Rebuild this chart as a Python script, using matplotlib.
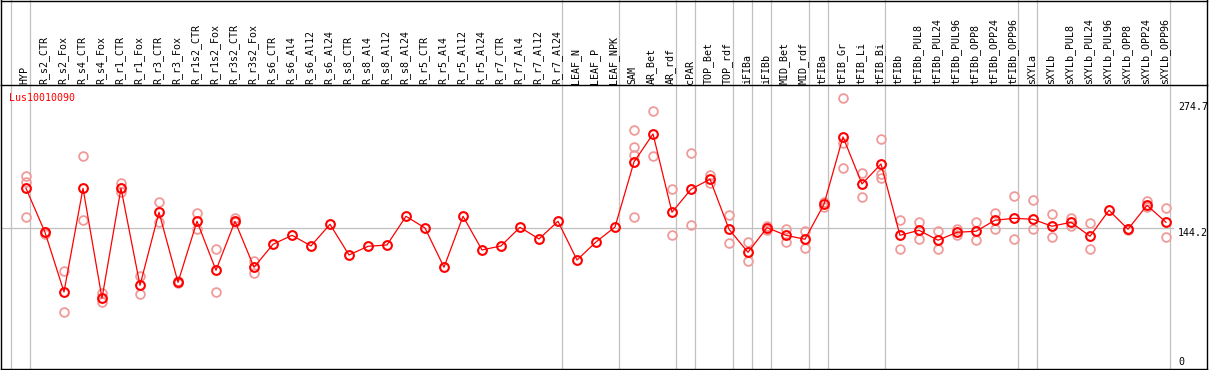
import matplotlib
matplotlib.use("Agg")
import matplotlib.pyplot as plt
from matplotlib.transforms import blended_transform_factory
from matplotlib.lines import Line2D

gene = "Lus10010090"

samples = [
    "HYP", "R_s2_CTR", "R_s2_Fox", "R_s4_CTR", "R_s4_Fox", "R_r1_CTR", "R_r1_Fox",
    "R_r3_CTR", "R_r3_Fox", "R_r1s2_CTR", "R_r1s2_Fox", "R_r3s2_CTR", "R_r3s2_Fox",
    "R_s6_CTR", "R_s6_Al4", "R_s6_Al12", "R_s6_Al24", "R_s8_CTR", "R_s8_Al4",
    "R_s8_Al12", "R_s8_Al24", "R_r5_CTR", "R_r5_Al4", "R_r5_Al12", "R_r5_Al24",
    "R_r7_CTR", "R_r7_Al4", "R_r7_Al12", "R_r7_Al24", "LEAF_N", "LEAF_P", "LEAF_NPK",
    "SAM", "AR_Bet", "AR_rdf", "cPAR", "TOP_Bet", "TOP_rdf", "iFIBa", "iFIBb",
    "MID_Bet", "MID_rdf", "tFIBa", "tFIB_Gr", "tFIB_Li", "tFIB_Bi", "tFIBb",
    "tFIBb_PUL8", "tFIBb_PUL24", "tFIBb_PUL96", "tFIBb_OPP8", "tFIBb_OPP24",
    "tFIBb_OPP96", "sXYLa", "sXYLb", "sXYLb_PUL8", "sXYLb_PUL24", "sXYLb_PUL96",
    "sXYLb_OPP8", "sXYLb_OPP24", "sXYLb_OPP96",
]

# mean expression per sample
means = [
    185.3, 139.7, 77.9, 185.3, 71.4, 185.3, 84.8, 160.5, 87.9, 151.1, 100.4, 151.1,
    103.5, 127.3, 136.6, 125.6, 148.0, 116.2, 125.2, 126.6, 156.3, 144.2, 103.5,
    156.3, 121.4, 125.6, 144.9, 132.8, 151.1, 111.0, 129.7, 145.2, 212.6, 241.6,
    160.5, 184.3, 194.7, 142.9, 119.0, 144.5, 136.6, 132.5, 168.8, 238.5, 189.8,
    210.5, 136.6, 141.8, 131.5, 139.7, 140.8, 152.2, 154.2, 153.2, 146.0, 150.1,
    135.6, 162.5, 142.9, 167.7, 150.1,
]

# individual replicates
replicates = [
    [197.8, 191.5, 155.6], [140.5, 137.5], [99.7, 57.2], [218.5, 152.2], [76.5, 67.8],
    [190.5, 181.2], [94.2, 75.5], [170.8, 150.1], [86.7, 89.3], [159.4, 142.9],
    [122.1, 77.9], [154.2, 150.1], [109.7, 97.9],
    [], [], [], [], [], [], [], [], [], [], [], [], [], [], [], [], [], [], [],
    [245.4, 227.8, 219.5, 155.6], [265.1, 218.5], [184.3, 136.6], [221.6, 147.0],
    [199.1, 190.5], [157.4, 128.3], [129.4, 109.7], [146.3, 142.1], [142.9, 130.0],
    [140.8, 123.2], [166.3, 171.1], [278.6, 232.0, 206.1], [200.9, 176.0],
    [236.2, 199.8, 195.7], [152.2, 122.1], [150.1, 132.5], [140.8, 122.1],
    [136.6, 142.9], [150.1, 131.5], [159.4, 143.5], [177.0, 132.5], [172.9, 142.9],
    [158.4, 134.6], [154.2, 146.0], [149.1, 122.1], [], [143.5, 141.8],
    [171.9, 165.6], [164.6, 134.6],
]

# last sample of each group (separators drawn after them)
group_ends = [-1, 0, 28, 31, 34, 35, 37, 38, 39, 41, 42, 45, 52, 53, 60]
y_marks = [0, 144.2, 274.7]

W, H = 1209, 370
fig = plt.figure(figsize=(W / 100, H / 100), dpi=100)
ax = fig.add_axes([1 / W, 1 / H, 1206 / W, 284 / H])
ax.set_xlim((1 - 26) / 19, (1207 - 26) / 19)
ax.set_ylim(-1.9, 292.3)
ax.set_xticks([])
ax.set_yticks([])
for s in ax.spines.values():
    s.set_color("black")
    s.set_linewidth(1.0)

grey = "#c0c0c0"
mono = "DejaVu Sans Mono"
x = list(range(len(samples)))

# group separators across the whole figure height
tr = blended_transform_factory(ax.transData, fig.transFigure)
for g in group_ends:
    ax.add_line(Line2D([g + 0.2, g + 0.2], [1 / H, 1], transform=tr, color=grey,
                       lw=0.9, clip_on=False, zorder=0))

ax.axhline(y_marks[1], xmin=0, xmax=0.972, color=grey, lw=0.9, zorder=0)

for i, reps in enumerate(replicates):
    if reps:
        ax.plot([i] * len(reps), reps, "o", ms=6.3, mfc="none", mec="#f09a9a",
                mew=1.3, zorder=2)

ax.plot(x, means, "-", color="red", lw=0.9, zorder=3)
ax.plot(x, means, "o", ms=6.3, mfc="none", mec="red", mew=1.5, zorder=4)

# y value labels on the right
for v in y_marks:
    ax.text(1178 / W, v, f"{v:g}", transform=blended_transform_factory(fig.transFigure, ax.transData),
            fontsize=7.2, family=mono, ha="left", va="bottom" if v == 0 else "top")

fig.text(9 / W, 1 - 98 / H, gene, color="red", fontsize=7.2, family=mono,
         ha="left", va="center")

# sample labels above the plot
for i, name in enumerate(samples):
    ax.text(i - 0.07, 1 - 84 / H, name, transform=tr, rotation=90, fontsize=7.2,
            family=mono, ha="center", va="bottom")

# frame of the label area
for xs, ys in [([1, 1207], [H - 0.5, H - 0.5]), ([1, 1], [285, H]), ([1207, 1207], [285, H])]:
    fig.add_artist(Line2D([a / W for a in xs], [b / H for b in ys], color="black", lw=1.0))

fig.savefig("out.png", dpi=100)
